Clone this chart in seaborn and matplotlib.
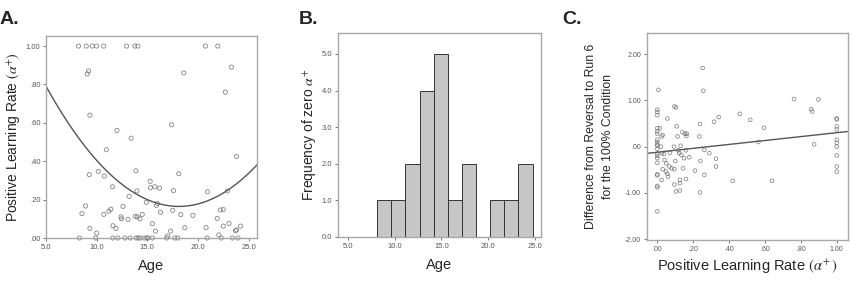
import matplotlib
matplotlib.use("Agg")
import matplotlib.pyplot as plt
import numpy as np
import pandas as pd
import seaborn as sns
from matplotlib.ticker import FuncFormatter

# ---- Panel A: age vs positive learning rate ----
age_a = [8.2, 8.97, 9.56, 10.0, 10.7, 12.95, 13.77, 14.07, 20.73, 21.95,
         9.2, 9.07, 18.6, 23.3, 22.7, 9.33, 17.4, 12.0, 13.4, 10.95,
         23.8, 9.27, 10.16, 10.75, 13.87, 18.1, 11.57, 13.97, 15.28, 15.3,
         15.74, 16.2, 17.58, 20.93, 22.9, 13.2, 8.9, 8.55, 11.2, 11.4,
         12.6, 14.9, 15.9, 16.0, 16.3, 17.5, 18.3, 19.5, 22.2, 22.5,
         21.9, 10.7, 12.4, 12.45, 13.1, 13.8, 14.0, 14.26, 14.5, 15.5,
         9.33, 10.0, 11.6, 11.9, 15.8, 17.3, 18.7, 20.8, 22.5, 23.06,
         23.7, 23.8, 24.2, 17.0, 22.05,
         8.3, 9.9, 11.6, 12.1, 12.8, 13.3, 13.9, 14.1, 14.3, 14.7,
         14.95, 15.05, 15.5, 16.9, 17.7, 18.0, 20.9, 22.3, 23.4, 23.95]
alpha_a = [1.0, 1.0, 1.0, 1.0, 1.0, 1.0, 1.0, 1.0, 1.0, 1.0,
           0.87, 0.855, 0.86, 0.89, 0.76, 0.64, 0.59, 0.56, 0.52, 0.46,
           0.425, 0.33, 0.347, 0.323, 0.35, 0.335, 0.267, 0.245, 0.295, 0.262,
           0.267, 0.26, 0.247, 0.241, 0.245, 0.217, 0.167, 0.127, 0.14, 0.15,
           0.165, 0.186, 0.17, 0.18, 0.134, 0.144, 0.122, 0.118, 0.146, 0.148,
           0.102, 0.123, 0.11, 0.10, 0.097, 0.113, 0.11, 0.10, 0.123, 0.075,
           0.05, 0.026, 0.064, 0.05, 0.036, 0.036, 0.054, 0.054, 0.062, 0.076,
           0.038, 0.042, 0.062, 0.01, 0.016,
           0, 0, 0, 0, 0, 0, 0, 0, 0, 0,
           0, 0, 0, 0, 0, 0, 0, 0, 0, 0]

# ---- Panel B: histogram of zero alpha+ by age ----
bin_edges = [8.13, 9.64, 11.15, 12.66, 14.17, 15.68, 17.19, 18.70, 20.21, 21.72, 23.23, 24.74]
zero_counts = [1, 1, 2, 4, 5, 1, 2, 0, 1, 1, 2]

# ---- Panel C: alpha+ vs reversal difference ----
alpha_c = [0.006, 0, 0, 0, 0, 0, 0, 0, 0, 0,
           0, 0, 0, 0, 0, 0, 0, 0, 0, 0, 0,
           0.015, 0.024, 0.03, 0.056, 0.02, 0.026, 0.037, 0.04, 0.05, 0.03,
           0.024, 0.048, 0.056, 0.06, 0.07, 0.067, 0.08, 0.093, 0.095, 0.104,
           0.108, 0.10, 0.095, 0.095, 0.104, 0.113, 0.117, 0.122, 0.126, 0.126,
           0.126, 0.13, 0.134, 0.14, 0.149, 0.143, 0.154, 0.162, 0.164, 0.16,
           0.16, 0.178, 0.21, 0.234, 0.238, 0.24, 0.238, 0.253, 0.256, 0.262,
           0.262, 0.29, 0.316, 0.327, 0.327, 0.342, 0.42, 0.459, 0.518, 0.563,
           0.595, 0.639, 0.762, 0.857, 0.864, 0.874, 0.898,
           1.0, 1.0, 1.0, 1.0, 1.0, 1.0, 1.0, 1.0, 1.0, 1.0]
diff_c = [1.23, 0.80, 0.75, 0.68, 0.33, 0.28, 0.15, 0.10, 0.05, 0.02,
          -0.05, -0.15, -0.20, -0.25, -0.35, -0.60, -0.62, -0.85, -0.88, -1.40, 0.40,
          0.40, 0.22, 0.25, 0.61, 0.0, -0.14, -0.16, -0.29, -0.36, -0.49,
          -0.72, -0.54, -0.59, -0.65, -0.13, -0.43, -0.47, 0.0, 0.87, 0.85,
          0.44, -0.31, -0.49, -0.82, -0.97, 0.22, -0.08, -0.14, -0.72, -0.79,
          -0.95, 0.02, -0.18, 0.31, -0.25, -0.47, 0.28, 0.23, 0.28, -0.08,
          -0.70, -0.23, -0.52, 0.22, 0.49, -0.31, -0.99, 1.70, 1.21, -0.07,
          -0.61, -0.14, 0.54, -0.26, -0.43, 0.64, -0.74, 0.71, 0.58, 0.10,
          0.41, -0.74, 1.03, 0.81, 0.76, 0.05, 1.02,
          0.61, 0.59, 0.44, 0.37, 0.15, 0.08, 0.0, -0.19, -0.43, -0.54]

df_a = pd.DataFrame({"age": age_a, "alpha": alpha_a})
df_c = pd.DataFrame({"alpha": alpha_c, "diff": diff_c})
centers = [(bin_edges[i] + bin_edges[i + 1]) / 2 for i in range(len(zero_counts))]

sns.set_theme(style="white")
plt.rcParams["font.family"] = ["Liberation Sans", "DejaVu Sans"]
plt.rcParams["mathtext.fontset"] = "stix"

spine_col = "#a8a8a8"
tick_col = "#555555"
mark_col = "#666666"
line_col = "#555555"


def spss_fmt(v, pos):
    s = "%.2f" % v
    if s.startswith("0."):
        s = s[1:]
    elif s.startswith("-0."):
        s = "-" + s[2:]
    return s


def style_axes(ax):
    for sp in ax.spines.values():
        sp.set_color(spine_col)
        sp.set_linewidth(1.0)
    ax.tick_params(axis="both", which="major", direction="out", length=2.5, width=0.7,
                   color="#777777", labelsize=5.5, labelcolor=tick_col, pad=1.5,
                   bottom=True, left=True)


fig = plt.figure(figsize=(8.6, 2.82), dpi=100)
ax_a = fig.add_axes([0.0535, 0.156, 0.2453, 0.716])
ax_b = fig.add_axes([0.393, 0.1596, 0.236, 0.723])
ax_c = fig.add_axes([0.752, 0.149, 0.2337, 0.734])

# A
ax_a.set_xlim(5.0, 25.82)
ax_a.set_ylim(0, 1.052)
sns.regplot(data=df_a, x="age", y="alpha", order=2, ci=None, truncate=False, ax=ax_a,
            scatter_kws=dict(s=9, facecolors="none", edgecolors=mark_col, linewidths=0.6, clip_on=False),
            line_kws=dict(color=line_col, lw=1.0))
ax_a.set_xlim(5.0, 25.82)
ax_a.set_ylim(0, 1.052)
ax_a.set_xticks([5, 10, 15, 20, 25])
ax_a.set_yticks([0, 0.2, 0.4, 0.6, 0.8, 1.0])
ax_a.xaxis.set_major_formatter(FuncFormatter(lambda v, p: "%.1f" % v))
ax_a.yaxis.set_major_formatter(FuncFormatter(spss_fmt))
ax_a.set_xlabel("Age", fontsize=10.5, labelpad=6)
ax_a.set_ylabel(r"Positive Learning Rate $(\alpha^{+})$", fontsize=10, labelpad=3)
style_axes(ax_a)

# B
sns.histplot(x=centers, weights=zero_counts, bins=bin_edges, ax=ax_b,
             color="#c6c6c6", edgecolor="#333333", linewidth=0.7, alpha=1.0)
ax_b.set_xlim(3.93, 25.64)
ax_b.set_ylim(0, 5.57)
ax_b.set_xticks([5, 10, 15, 20, 25])
ax_b.set_yticks([0, 1, 2, 3, 4, 5])
ax_b.xaxis.set_major_formatter(FuncFormatter(lambda v, p: "%.1f" % v))
ax_b.yaxis.set_major_formatter(FuncFormatter(lambda v, p: "%.1f" % v))
ax_b.set_xlabel("Age", fontsize=10.5, labelpad=6)
ax_b.set_ylabel(r"Frequency of zero $\alpha^{+}$", fontsize=10, labelpad=3)
style_axes(ax_b)

# C
ax_c.set_xlim(-0.059, 1.061)
ax_c.set_ylim(-2.02, 2.46)
sns.regplot(data=df_c, x="alpha", y="diff", order=1, ci=None, truncate=False, ax=ax_c,
            scatter_kws=dict(s=7, facecolors="none", edgecolors=mark_col, linewidths=0.55),
            line_kws=dict(color=line_col, lw=1.0))
ax_c.set_xlim(-0.059, 1.061)
ax_c.set_ylim(-2.02, 2.46)
ax_c.set_xticks([0, 0.2, 0.4, 0.6, 0.8, 1.0])
ax_c.set_yticks([-2, -1, 0, 1, 2])
ax_c.xaxis.set_major_formatter(FuncFormatter(spss_fmt))
ax_c.yaxis.set_major_formatter(FuncFormatter(spss_fmt))
ax_c.set_xlabel(r"Positive Learning Rate $(\alpha^{+}\,)$", fontsize=10.5, labelpad=4)
ax_c.set_ylabel("Difference from Reversal to Run 6\nfor the 100% Condition",
                fontsize=8.8, labelpad=8, linespacing=1.6)
style_axes(ax_c)
ax_c.tick_params(labelsize=5)

# panel letters
for xx, lab in [(0.0, "A."), (0.347, "B."), (0.654, "C.")]:
    fig.text(xx, 0.96, lab, fontsize=14, fontweight="bold", va="top", ha="left")

fig.savefig("out.png", dpi=100)
